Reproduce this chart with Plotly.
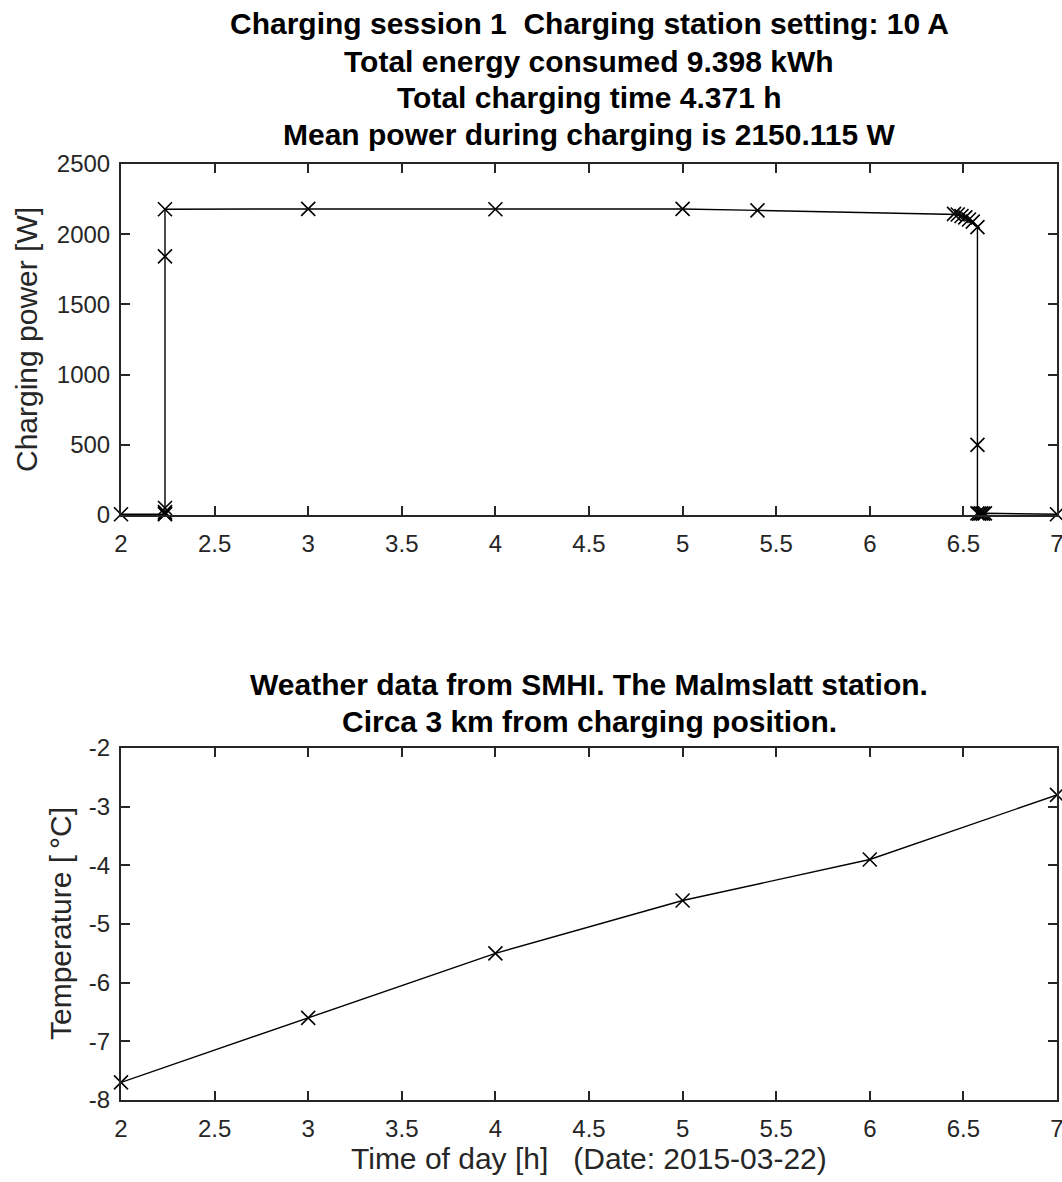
import plotly.graph_objects as go

# Charging power data (time of day [h], power [W])
power_time = [2.0, 2.235, 2.235, 2.235, 2.235, 2.235, 2.235, 3.0, 4.0, 5.0, 5.4,
              6.45, 6.47, 6.49, 6.51, 6.53, 6.55, 6.575, 6.575, 6.575,
              6.585, 6.595, 6.605, 6.615, 7.0]
power_w = [5, 5, 10, 20, 50, 1842, 2178, 2180, 2178, 2180, 2170,
           2145, 2140, 2130, 2120, 2105, 2090, 2050, 499, 12,
           10, 12, 10, 12, 5]

# Weather data
temp_time = [2, 3, 4, 5, 6, 7]
temp_c = [-7.7, -6.6, -5.5, -4.6, -3.9, -2.8]

x_ticks = [2, 2.5, 3, 3.5, 4, 4.5, 5, 5.5, 6, 6.5, 7]
p_ticks = [0, 500, 1000, 1500, 2000, 2500]
t_ticks = [-8, -7, -6, -5, -4, -3, -2]

title1 = ["Charging session 1  Charging station setting: 10 A",
          "Total energy consumed 9.398 kWh",
          "Total charging time 4.371 h",
          "Mean power during charging is 2150.115 W"]
title2 = ["Weather data from SMHI. The Malmslatt station.",
          "Circa 3 km from charging position."]
ylabel1 = "Charging power [W]"
ylabel2 = "Temperature [\u2009°C]"
xlabel2 = "Time of day [h]   (Date: 2015-03-22)"

W, H = 1062, 1182
FONT = "Liberation Sans, Arial, Helvetica, sans-serif"
AX = "#262626"
TICKF = 24
LABF = 30
TITF = 30

fig = go.Figure()
mk = dict(symbol="x-thin", size=14, line=dict(width=1.6, color="black"), color="black")
fig.add_trace(go.Scatter(x=power_time, y=power_w, mode="lines+markers",
                         line=dict(color="black", width=1.4), marker=mk,
                         xaxis="x", yaxis="y", showlegend=False, cliponaxis=False))
fig.add_trace(go.Scatter(x=temp_time, y=temp_c, mode="lines+markers",
                         line=dict(color="black", width=1.4), marker=mk,
                         xaxis="x2", yaxis="y2", showlegend=False, cliponaxis=False))

def px_x(p):
    return p / W

def px_y(p):
    return 1 - p / H

axcommon = dict(showline=True, linecolor=AX, linewidth=2, mirror="ticks",
                ticks="inside", ticklen=9, tickwidth=2, tickcolor=AX,
                showgrid=False, zeroline=False, automargin=False,
                ticklabeloverflow="allow",
                tickfont=dict(family=FONT, size=TICKF, color=AX))

fig.update_layout(
    template="none",
    width=W, height=H, plot_bgcolor="white", paper_bgcolor="white",
    margin=dict(l=0, r=0, t=0, b=0, pad=0, autoexpand=False),
    xaxis=dict(domain=[px_x(121), px_x(1057)], range=[2, 7], anchor="y",
               tickvals=x_ticks, ticktext=[f"{v:g}" for v in x_ticks],
               ticklabelstandoff=6, **axcommon),
    yaxis=dict(domain=[px_y(515), px_y(164)], range=[0, 2500], anchor="x",
               tickvals=p_ticks, ticktext=[str(v) for v in p_ticks],
               ticklabelstandoff=4, **axcommon),
    xaxis2=dict(domain=[px_x(121), px_x(1057)], range=[2, 7], anchor="y2",
                tickvals=x_ticks, ticktext=[f"{v:g}" for v in x_ticks],
                ticklabelstandoff=6, **axcommon),
    yaxis2=dict(domain=[px_y(1100), px_y(748)], range=[-8, -2], anchor="x2",
                tickvals=t_ticks, ticktext=[str(v) for v in t_ticks],
                ticklabelstandoff=4, **axcommon),
)

cx = px_x(589)
for i, t in enumerate(title1):
    fig.add_annotation(text=f"<b>{t}</b>", x=cx, y=px_y(24 + 37 * i), xref="paper", yref="paper",
                       xanchor="center", yanchor="middle", showarrow=False,
                       font=dict(family=FONT, size=TITF, color="black"))
for i, t in enumerate(title2):
    fig.add_annotation(text=f"<b>{t}</b>", x=cx, y=px_y(684 + 37 * i), xref="paper", yref="paper",
                       xanchor="center", yanchor="middle", showarrow=False,
                       font=dict(family=FONT, size=TITF, color="black"))

lab = dict(xref="paper", yref="paper", xanchor="center", yanchor="middle", showarrow=False,
           font=dict(family=FONT, size=LABF, color=AX))
fig.add_annotation(text=ylabel1, x=px_x(26), y=px_y(340), textangle=-90, **lab)
fig.add_annotation(text=ylabel2, x=px_x(60), y=px_y(924), textangle=-90, **lab)
fig.add_annotation(text=xlabel2, x=cx, y=px_y(1158), **lab)

fig.write_html("out.html", config={"displayModeBar": False},
               post_script="document.body.style.margin='0';document.body.style.overflow='hidden';")
